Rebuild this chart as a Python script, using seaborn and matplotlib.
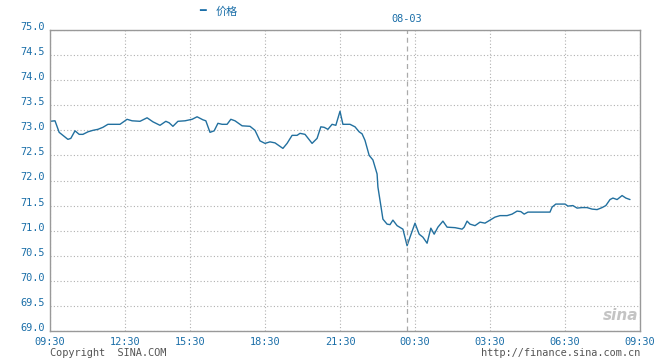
import matplotlib
matplotlib.use("Agg")
import matplotlib.pyplot as plt
import matplotlib.transforms as mtransforms
import seaborn as sns
import pandas as pd

# session minutes since 09:30 (break compressed between 12:30 and 15:30)
minutes = [0, 12, 22, 31, 43, 50, 60, 70, 79, 91,
           103, 115, 127, 139, 168, 185, 197, 216, 233, 247,
           264, 278, 286, 295, 307, 324, 341, 353, 360, 367,
           374, 384, 394, 403, 413, 425, 434, 444, 461, 480,
           492, 504, 516, 528, 540, 559, 569, 581, 593, 600,
           612, 629, 641, 650, 658, 667, 677, 686, 696, 703,
           720, 732, 742, 749, 756, 766, 775, 785, 787, 794,
           799, 809, 816, 823, 833, 847, 857, 864, 876, 886,
           895, 905, 914, 922, 931, 943, 953, 972, 984, 989,
           994, 1001, 1008, 1020, 1032, 1044, 1056, 1068, 1080, 1097,
           1109, 1121, 1130, 1138, 1147, 1200, 1205, 1214, 1236, 1243,
           1255, 1265, 1277, 1289, 1301, 1313, 1325, 1334, 1344, 1351,
           1361, 1373, 1382, 1392]
values = [73.18, 73.19, 72.96, 72.90, 72.82, 72.84, 72.99, 72.92, 72.92, 72.97,
          73.00, 73.02, 73.06, 73.12, 73.12, 73.22, 73.19, 73.18, 73.25, 73.17,
          73.10, 73.18, 73.15, 73.08, 73.18, 73.19, 73.22, 73.27, 73.24, 73.21,
          73.19, 72.96, 72.99, 73.14, 73.12, 73.12, 73.22, 73.19, 73.09, 73.08,
          73.00, 72.79, 72.74, 72.77, 72.75, 72.64, 72.74, 72.90, 72.90, 72.94,
          72.92, 72.74, 72.84, 73.07, 73.06, 73.02, 73.12, 73.10, 73.38, 73.12,
          73.12, 73.07, 72.97, 72.93, 72.80, 72.50, 72.41, 72.13, 71.87, 71.50,
          71.23, 71.13, 71.12, 71.21, 71.10, 71.03, 70.70, 70.87, 71.15, 70.93,
          70.87, 70.75, 71.05, 70.93, 71.07, 71.19, 71.07, 71.06, 71.04, 71.03,
          71.07, 71.19, 71.13, 71.10, 71.17, 71.15, 71.21, 71.27, 71.30, 71.30,
          71.33, 71.39, 71.38, 71.33, 71.37, 71.37, 71.47, 71.53, 71.53, 71.49,
          71.50, 71.45, 71.46, 71.46, 71.43, 71.42, 71.46, 71.50, 71.62, 71.65,
          71.62, 71.70, 71.65, 71.62]

tick_minutes = [0, 180, 336, 516, 696, 876, 1056, 1236, 1416]
tick_labels = ["09:30", "12:30", "15:30", "18:30", "21:30", "00:30", "03:30", "06:30", "09:30"]
y_ticks = [69.0, 69.5, 70.0, 70.5, 71.0, 71.5, 72.0, 72.5, 73.0, 73.5, 74.0, 74.5, 75.0]
date_minute = 857
date_label = "08-03"
series_name = "价格"

sns.set_theme(style="white")
plt.rcParams['font.family'] = ['DejaVu Sans Mono', 'Noto Sans CJK SC']

BLUE = "#1a6ea8"
df = pd.DataFrame({"t": minutes, "v": values})

fig = plt.figure(figsize=(6.6, 3.6), dpi=100)
ax = fig.add_axes([50/660, 29/360, 590/660, 301/360])
sns.lineplot(data=df, x="t", y="v", ax=ax, color="#22709f", linewidth=1.0)

ax.set_xlim(0, 1416)
ax.set_ylim(69.0, 75.0)
ax.set_xticks(tick_minutes)
ax.set_xticklabels(tick_labels)
ax.set_yticks(y_ticks)
ax.set_yticklabels([f"{v:.1f}" for v in y_ticks])
ax.set_xlabel("")
ax.set_ylabel("")
ax.tick_params(axis="both", length=0, labelsize=7.4, colors=BLUE)
ax.tick_params(axis="x", pad=4)
ax.tick_params(axis="y", pad=4)

# y labels sit slightly above their gridlines
up = mtransforms.ScaledTranslation(0, 4/100, fig.dpi_scale_trans)
for tk in ax.yaxis.get_major_ticks():
    tk.label1.set_transform(tk.label1.get_transform() + up)

ax.grid(True, color="#b0b0b0", linestyle=(0, (1, 2)), linewidth=0.8)
for s in ax.spines.values():
    s.set_color("#999999")
    s.set_linewidth(1.0)
ax.axvline(date_minute, color="#aaaaaa", linestyle=(0, (4, 3)), linewidth=0.9)
ax.annotate(date_label, xy=(date_minute, 75.0), xytext=(0, 8), textcoords="offset points",
            xycoords="data", ha="center", va="center", fontsize=7.4, color=BLUE,
            annotation_clip=False)

# legend
fig.text(199/660, 1 - 11/360, "━", color=BLUE, fontsize=8, ha="left", va="center",
         family=['DejaVu Sans'])
fig.text(216/660, 1 - 12/360, series_name, color=BLUE, fontsize=8, ha="left", va="center",
         family=['Noto Sans CJK SC', 'DejaVu Sans'])

fig.text(50/660, 1 - 353/360, "Copyright  SINA.COM", color="#555555", fontsize=7.4,
         ha="left", va="center")
fig.text(640/660, 1 - 353/360, "http://finance.sina.com.cn", color="#555555", fontsize=7.4,
         ha="right", va="center")
fig.text(621/660, 1 - 315/360, "sina", color="#c4c4c4", fontsize=11, ha="center", va="center",
         style="italic", weight="bold", family=['DejaVu Sans'])

fig.savefig("out.png", dpi=100, facecolor="white")
